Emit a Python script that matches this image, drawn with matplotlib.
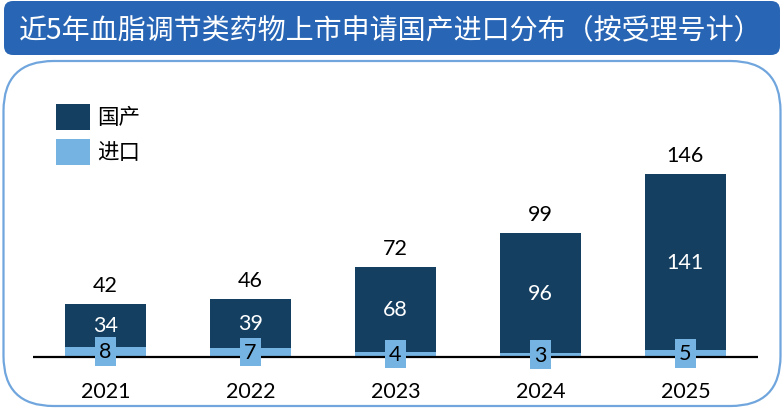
import matplotlib.pyplot as plt
from matplotlib.patches import FancyBboxPatch, Rectangle

plt.rcParams['font.family'] = ['Noto Sans CJK SC', 'DejaVu Sans']

years = ['2021', '2022', '2023', '2024', '2025']
domestic = [34, 39, 68, 96, 141]
imported = [8, 7, 4, 3, 5]
totals = [42, 46, 72, 99, 146]

title = '近5年血脂调节类药物上市申请国产进口分布（按受理号计）'
legend_labels = ['国产', '进口']

dark = '#153F61'
light = '#74B3E2'
banner = '#2866B5'
frame = '#70A6DD'
num_font = ['Lato', 'DejaVu Sans']


def main():
    fig = plt.figure(figsize=(7.84, 4.10), dpi=100)

    # background layer in pixel units
    bg = fig.add_axes([0, 0, 1, 1])
    bg.set_xlim(0, 784)
    bg.set_ylim(410, 0)
    bg.axis('off')

    bg.add_patch(FancyBboxPatch((4, 2), 776, 54,
                                boxstyle='round,pad=0,rounding_size=9',
                                facecolor=banner, edgecolor='none'))
    bg.text(19, 30, title, color='white', fontsize=20.2,
            va='center', ha='left')

    bg.add_patch(FancyBboxPatch((3.5, 62), 777, 345,
                                boxstyle='round,pad=0,rounding_size=50',
                                facecolor='none', edgecolor=frame, linewidth=1.6))

    # legend
    for i, (lab, col) in enumerate(zip(legend_labels, [dark, light])):
        y0 = 105 + i * 35
        bg.add_patch(Rectangle((56, y0), 34, 26, facecolor=col, edgecolor='none'))
        bg.text(97, y0 + 13, lab, fontsize=15.5, va='center', ha='left', color='black')

    # chart
    ax = fig.add_axes([0, 0, 1, 1])
    ax.patch.set_alpha(0)
    x = list(range(len(years)))
    ax.set_xlim(-0.727, 4.680)
    ax.set_ylim(-42, 286)

    ax.bar(x, imported, width=0.56, color=light, zorder=2)
    ax.bar(x, domestic, width=0.56, bottom=imported, color=dark, zorder=2)
    ax.hlines(0, -0.5, len(years) - 0.5, color='black', linewidth=1.6, zorder=3)

    for i in x:
        ax.annotate(str(totals[i]), (i, totals[i]), xytext=(0, 13.5),
                    textcoords='offset points', ha='center', va='center',
                    fontsize=15.5, family=num_font, color='black')
        ax.text(i, imported[i] + domestic[i] / 2, str(domestic[i]),
                ha='center', va='center', fontsize=15.5, family=num_font,
                color='white', zorder=4)
        ax.text(i, imported[i] / 2, str(imported[i]),
                ha='center', va='center', fontsize=15.5, family=num_font,
                color='black', zorder=5,
                bbox=dict(boxstyle='square,pad=0.2', facecolor=light, edgecolor='none'))

    ax.set_xticks(x)
    ax.set_xticklabels(years, fontsize=15.5, family=num_font)
    ax.tick_params(axis='x', length=0, pad=-20, direction='in')
    ax.set_yticks([])
    for s in ax.spines.values():
        s.set_visible(False)

    fig.savefig('out.png', dpi=100)


if __name__ == '__main__':
    main()
